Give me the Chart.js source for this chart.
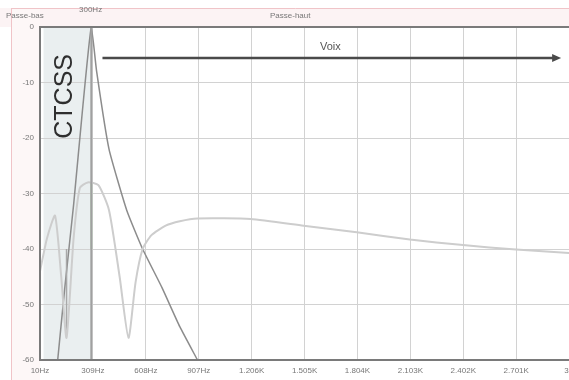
<!DOCTYPE html>
<html>
<head>
<meta charset="utf-8">
<script src="https://cdn.jsdelivr.net/npm/chart.js@4"></script>
<style>
  html, body { margin: 0; padding: 0; overflow: hidden; background: #fff; }
  canvas { display: block; }
</style>
</head>
<body>
<canvas id="filterChart" width="580" height="380"></canvas>
<script>
// tick labels as printed on the axes
const freqTicks = [10, 309, 608, 907, 1206, 1505, 1804, 2103, 2402, 2701, 3000];
const freqLabels = ['10Hz', '309Hz', '608Hz', '907Hz', '1.206K', '1.505K', '1.804K', '2.103K', '2.402K', '2.701K', '3K'];
const dbTicks = [0, -10, -20, -30, -40, -50, -60];

// sharp 300 Hz response (dark curve)
const peakFreq = [110, 150, 200, 250, 300, 330, 400, 500, 590, 700, 800, 900];
const peakDb   = [-60, -47, -32, -15, 0, -8, -22, -33, -40, -47, -54, -60];

// wide response with notches (light curve)
const voiceFreq = [10, 50, 95, 130, 160, 200, 235, 280, 340, 400, 460, 510, 550, 590, 640, 720, 800, 900, 1200, 1500, 1800, 2100, 2400, 2700, 3000];
const voiceDb   = [-44, -38, -34, -45, -56, -38, -29, -28, -28.5, -33, -45, -56, -46, -40, -37.5, -35.8, -35, -34.5, -34.6, -35.8, -37, -38.3, -39.3, -40.1, -40.7];

// notch segment near 160 Hz and the 300 Hz green marker
const notchFreq = [160, 160];
const notchDb   = [-40, -55];
const markFreq  = [300, 300];
const markDb    = [-28, -40];

// annotations
const ctcssBand = [30, 300];
const voixArrow = { from: 363, to: 2955, db: -5.6 };

const pts = (xs, ys) => xs.map((x, i) => ({ x: x, y: ys[i] }));

const decor = {
  id: 'decor',
  beforeDraw(chart) {
    const c = chart.ctx, a = chart.chartArea;
    const xs = chart.scales.x;
    c.save();
    c.fillStyle = '#fff';
    c.fillRect(0, 0, chart.width, chart.height);
    // pinkish frame of the screenshot
    c.fillStyle = '#fcf3f4';
    c.fillRect(0, 8, chart.width, a.top - 8);
    c.fillStyle = '#fdf7f7';
    c.fillRect(11, 8, a.left - 11, chart.height - 8);
    c.strokeStyle = '#f0c4c8';
    c.lineWidth = 1;
    c.beginPath();
    c.moveTo(11.5, 8); c.lineTo(11.5, chart.height);
    c.moveTo(11, 8.5); c.lineTo(chart.width, 8.5);
    c.stroke();
    // CTCSS band
    const x0 = xs.getPixelForValue(ctcssBand[0]);
    const x1 = xs.getPixelForValue(ctcssBand[1]);
    c.fillStyle = '#eaeff0';
    c.fillRect(x0, a.top, x1 - x0, a.bottom - a.top);
    c.restore();
  },
  afterDraw(chart) {
    const c = chart.ctx, a = chart.chartArea;
    const xs = chart.scales.x, ys = chart.scales.y;
    c.save();
    // 300 Hz marker
    const xm = xs.getPixelForValue(300);
    c.strokeStyle = '#a0a0a0';
    c.lineWidth = 2;
    c.beginPath();
    c.moveTo(xm, a.top); c.lineTo(xm, a.bottom);
    c.stroke();
    // frame
    c.strokeStyle = '#7a7a7a';
    c.lineWidth = 2;
    c.beginPath();
    c.moveTo(a.right + 10, a.top); c.lineTo(a.left, a.top);
    c.lineTo(a.left, a.bottom); c.lineTo(a.right + 10, a.bottom);
    c.stroke();
    // voice arrow
    const ax0 = xs.getPixelForValue(voixArrow.from);
    const ax1 = xs.getPixelForValue(voixArrow.to);
    const ay = ys.getPixelForValue(voixArrow.db);
    c.strokeStyle = '#4a4a4a';
    c.fillStyle = '#4a4a4a';
    c.lineWidth = 2.5;
    c.beginPath();
    c.moveTo(ax0, ay); c.lineTo(ax1 - 6, ay);
    c.stroke();
    c.beginPath();
    c.moveTo(ax1, ay); c.lineTo(ax1 - 9, ay - 4); c.lineTo(ax1 - 9, ay + 4);
    c.closePath(); c.fill();
    c.font = '11px "Liberation Sans"';
    c.fillStyle = '#555';
    c.textAlign = 'center';
    c.textBaseline = 'alphabetic';
    c.fillText('Voix', xs.getPixelForValue(1651), ay - 8);
    // CTCSS label
    c.save();
    c.translate((xs.getPixelForValue(ctcssBand[0]) + xm) / 2 - 2, ys.getPixelForValue(-12.5));
    c.rotate(-Math.PI / 2);
    c.font = '25px "Liberation Sans"';
    c.fillStyle = '#2e2e2e';
    c.textAlign = 'center';
    c.textBaseline = 'middle';
    c.fillText('CTCSS', 0, 0);
    c.restore();
    // titles above the plot
    c.font = '8px "Liberation Sans"';
    c.fillStyle = '#777';
    c.textAlign = 'left';
    c.fillText('Passe-bas', 6, 18);
    c.fillText('300Hz', 79, 12);
    c.fillText('Passe-haut', 270, 18);
    c.restore();
  }
};

new Chart(document.getElementById('filterChart'), {
  type: 'scatter',
  data: {
    datasets: [
      { data: pts(voiceFreq, voiceDb), showLine: true, borderColor: '#cdcdcd', borderWidth: 2, pointRadius: 0, tension: 0.2 },
      { data: pts(notchFreq, notchDb), showLine: true, borderColor: '#a8a8a8', borderWidth: 1.5, pointRadius: 0 },
      { data: pts(markFreq, markDb), showLine: true, borderColor: '#b9dcb9', borderWidth: 2, pointRadius: 0 },
      { data: pts(peakFreq, peakDb), showLine: true, borderColor: '#8c8c8c', borderWidth: 1.5, pointRadius: 0, tension: 0.15 }
    ]
  },
  options: {
    responsive: false,
    animation: false,
    layout: { padding: { top: 27, right: 7, left: 0, bottom: 0 } },
    plugins: { legend: { display: false }, tooltip: { enabled: false } },
    scales: {
      x: {
        type: 'linear',
        min: 10,
        max: 3000,
        afterBuildTicks: s => { s.ticks = freqTicks.map(v => ({ value: v })); },
        afterFit: s => { s.height = 20; },
        grid: { color: '#d2d2d2', lineWidth: 1, drawTicks: false },
        border: { display: false },
        ticks: {
          padding: 6,
          maxRotation: 0,
          autoSkip: false,
          color: '#777',
          font: { family: 'Liberation Sans', size: 8 },
          callback: (v, i) => freqLabels[i]
        }
      },
      y: {
        min: -60,
        max: 0,
        afterBuildTicks: s => { s.ticks = dbTicks.map(v => ({ value: v })); },
        afterFit: s => { s.width = 40; },
        grid: { color: '#d2d2d2', lineWidth: 1, drawTicks: false },
        border: { display: false },
        ticks: {
          padding: 6,
          color: '#777',
          font: { family: 'Liberation Sans', size: 8 }
        }
      }
    }
  },
  plugins: [decor]
});
</script>
</body>
</html>
